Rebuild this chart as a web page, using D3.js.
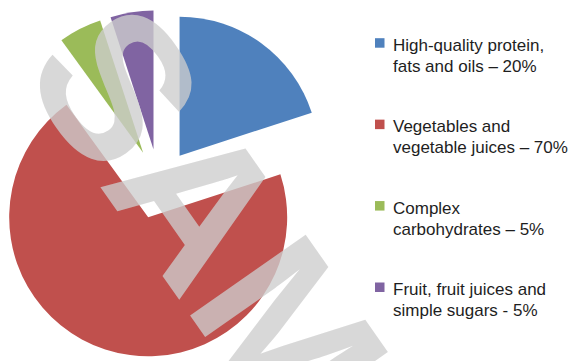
<!DOCTYPE html>
<html>
<head>
<meta charset="utf-8">
<script src="https://cdn.jsdelivr.net/npm/d3@7"></script>
<style>
  body { margin: 0; background: #fff; }
  svg { display: block; }
  .legend text { font-family: "Liberation Sans", Arial, sans-serif; font-size: 17px; fill: #1e1e1e; }
  .mark { font-family: "Liberation Sans", Arial, sans-serif; font-weight: bold; }
</style>
</head>
<body>
<svg></svg>
<script>
const width = 576, height = 361;
const svg = d3.select("svg").attr("width", width).attr("height", height);

// Data
const categories = ["High-quality protein, fats and oils", "Vegetables and vegetable juices",
  "Complex carbohydrates", "Fruit, fruit juices and simple sugars"];
const values = [20, 70, 5, 5];
const labelLines = [
  ["High-quality protein,", "fats and oils \u2013 20%"],
  ["Vegetables and", "vegetable juices \u2013 70%"],
  ["Complex", "carbohydrates \u2013 5%"],
  ["Fruit, fruit juices and", "simple sugars - 5%"]
];
const colors = ["#4F81BD", "#C0504D", "#9BBB59", "#8064A2"];

const cx = 159, cy = 184, radius = 139, explode = 35;

const color = d3.scaleOrdinal().domain(categories).range(colors);
const pie = d3.pie().sort(null).value(d => d.value);
const arc = d3.arc().innerRadius(0).outerRadius(radius);

const data = categories.map((c, i) => ({ name: c, value: values[i], lines: labelLines[i] }));
const arcs = pie(data);

// Slices, each pulled out along its middle angle
const gPie = svg.append("g").attr("transform", `translate(${cx},${cy})`);
gPie.selectAll("path")
  .data(arcs)
  .join("path")
  .attr("d", arc)
  .attr("fill", d => color(d.data.name))
  .attr("transform", d => {
    const a = (d.startAngle + d.endAngle) / 2;
    return `translate(${Math.sin(a) * explode},${-Math.cos(a) * explode})`;
  });

// Legend
const legendY = d3.scalePoint().domain(categories).range([50.7, 295]);
const gLegend = svg.append("g").attr("class", "legend");
const item = gLegend.selectAll("g")
  .data(data)
  .join("g")
  .attr("transform", d => `translate(375,${legendY(d.name)})`);
item.append("rect")
  .attr("y", -12.5).attr("width", 9.5).attr("height", 9.5)
  .attr("fill", d => color(d.name));
item.append("text")
  .selectAll("tspan")
  .data(d => d.lines)
  .join("tspan")
  .attr("x", 18)
  .attr("y", (d, i) => i * 21)
  .text(d => d);

// Watermark
svg.append("text")
  .attr("class", "mark")
  .attr("transform", "translate(19,71) rotate(55)")
  .attr("font-size", 205)
  .attr("fill", "rgb(205,205,205)")
  .attr("fill-opacity", 0.78)
  .text("SAMPLE");
</script>
</body>
</html>
